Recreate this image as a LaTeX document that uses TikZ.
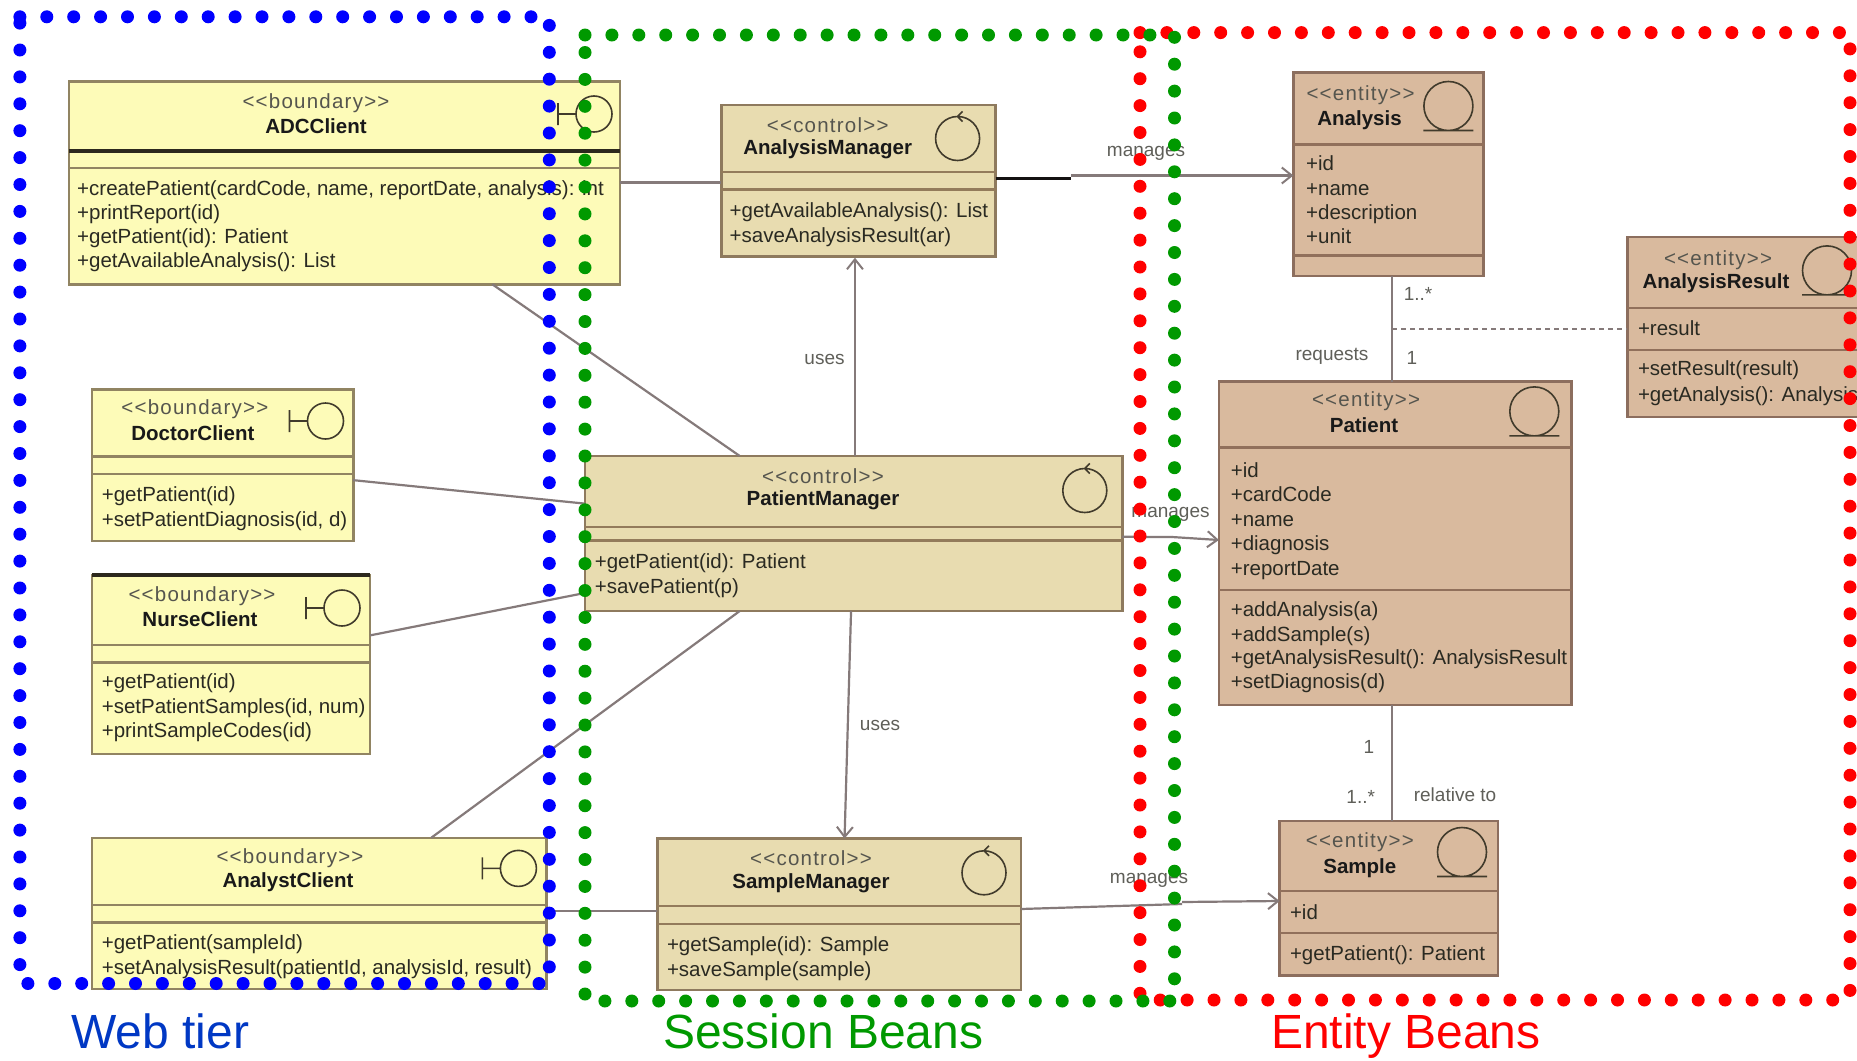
\documentclass[tikz,border=0pt]{standalone}
\usepackage{fontspec}
\setmainfont{Liberation Sans}
\usetikzlibrary{arrows.meta}
\definecolor{yfill}{HTML}{FDFBB8}
\definecolor{yedge}{HTML}{918462}
\definecolor{cfill}{HTML}{E8DCB0}
\definecolor{cedge}{HTML}{8E7A5E}
\definecolor{efill}{HTML}{D9BA9E}
\definecolor{eedge}{HTML}{8C6E5E}
\definecolor{conn}{HTML}{857A7A}
\definecolor{txt}{HTML}{2A2A22}
\definecolor{dotblue}{HTML}{0000FF}
\definecolor{dotgreen}{HTML}{009900}
\definecolor{dotred}{HTML}{FF0000}
\definecolor{webtxt}{HTML}{0038C4}
\tikzset{
  umlbase/.style={rectangle,draw,line width=2.6pt,inner sep=0pt,outer sep=0pt},
  ybox/.style={umlbase,fill=yfill,draw=yedge},
  cbox/.style={umlbase,fill=cfill,draw=cedge},
  ebox/.style={umlbase,fill=efill,draw=eedge},
  ysep/.style={draw=yedge,line width=2.6pt},
  csep/.style={draw=cedge!90!brown,line width=2.6pt},
  esep/.style={draw=eedge!90!brown,line width=2.8pt},
  heavysep/.style={draw=black!70!yedge,line width=3.6pt},
  label/.style={inner sep=0pt,text=txt!75!white,font=\fontsize{19}{19}\selectfont},
  stereo/.style={inner sep=0pt,text=txt!80!white,font=\fontsize{20.5}{22}\selectfont\addfontfeature{LetterSpace=6}},
  cname/.style={inner sep=0pt,text=black!90!white,font=\bfseries\fontsize{20.5}{22}\selectfont},
  member/.style={anchor=west,inner sep=0pt,yshift=-2pt,text=txt,text height=15pt,text depth=4pt,font=\fontsize{20.5}{22}\selectfont},
  iconline/.style={draw=black!55!yedge,line width=1.6pt},
  connector/.style={draw=conn,line width=2.2pt},
  navarrow/.style={connector,-{Straight Barb[length=10pt,width=16pt,line width=2pt]}},
  dotted link/.style={draw=conn,line width=2pt,dash pattern=on 5pt off 4pt},
  tier/.style={inner sep=0pt,anchor=base west,font=\fontsize{48}{50}\selectfont},
  dots/.style={line width=13pt,line cap=round,dash pattern=on 0pt off 26.9pt},
}
\newcommand{\umlbox}[6]{\node[#2,minimum width={#5-#3},minimum height={#6-#4}] (#1) at ({(#3+#5)/2},{(#4+#6)/2}) {};}
\newcommand{\boundaryicon}[2]{\draw[iconline,shift={(#1,#2)}] (-36,-11) -- (-36,11) (-36,0) -- (-18,0) (0,0) circle[radius=18];}
\newcommand{\controlicon}[2]{\draw[iconline,shift={(#1,#2)}] (0,0) circle[radius=22] (5,-27) -- (0,-22) -- (5,-17);}
\newcommand{\entityicon}[2]{\draw[iconline,shift={(#1,#2)}] (0,0) circle[radius=24.5] (-25,24.5) -- (25,24.5);}
\begin{document}
\begin{tikzpicture}[x=1pt,y=-1pt]
\useasboundingbox[fill=white] (0,0) rectangle (1857,1060);

% class boxes
\umlbox{adc}{ybox}{68.8}{81.4}{619.8}{284.3}
\umlbox{doc}{ybox}{92}{389.3}{353.2}{541}
\umlbox{nur}{ybox}{92}{574.8}{370}{754}
\umlbox{ana}{ybox}{92}{837.8}{546.4}{988.8}
\umlbox{am}{cbox}{721.4}{105}{995.5}{256.7}
\umlbox{pm}{cbox}{584.8}{456}{1122.3}{611}
\umlbox{sm}{cbox}{657.3}{838.5}{1020.9}{990}
\umlbox{ay}{ebox}{1293.4}{72.4}{1483.6}{276}
\umlbox{ar}{ebox}{1627.3}{237}{1890}{417}
\umlbox{pa}{ebox}{1218.9}{381.5}{1571.6}{705}
\umlbox{sa}{ebox}{1279.6}{821}{1497.9}{975.5}

% compartments
\draw[heavysep] (adc.west |- 0,150.7) -- (adc.east |- 0,150.7);
\draw[ysep] (adc.west |- 0,167.9) -- (adc.east |- 0,167.9);
\draw[ysep] (doc.west |- 0,456.4) -- (doc.east |- 0,456.4);
\draw[ysep] (doc.west |- 0,474) -- (doc.east |- 0,474);
\draw[heavysep] (nur.north west) -- (nur.north east);
\draw[ysep] (nur.west |- 0,645) -- (nur.east |- 0,645);
\draw[ysep] (nur.west |- 0,662.7) -- (nur.east |- 0,662.7);
\draw[ysep] (ana.west |- 0,905) -- (ana.east |- 0,905);
\draw[ysep] (ana.west |- 0,922.4) -- (ana.east |- 0,922.4);
\draw[csep] (am.west |- 0,172) -- (am.east |- 0,172);
\draw[csep] (am.west |- 0,189.4) -- (am.east |- 0,189.4);
\draw[csep] (pm.west |- 0,527) -- (pm.east |- 0,527);
\draw[csep] (pm.west |- 0,540.7) -- (pm.east |- 0,540.7);
\draw[csep] (sm.west |- 0,906) -- (sm.east |- 0,906);
\draw[csep] (sm.west |- 0,923.8) -- (sm.east |- 0,923.8);
\draw[esep] (ay.west |- 0,144.4) -- (ay.east |- 0,144.4);
\draw[esep] (ay.west |- 0,255.8) -- (ay.east |- 0,255.8);
\draw[esep] (ar.west |- 0,308) -- (ar.east |- 0,308);
\draw[esep] (ar.west |- 0,350) -- (ar.east |- 0,350);
\draw[esep] (pa.west |- 0,447.2) -- (pa.east |- 0,447.2);
\draw[esep] (pa.west |- 0,590) -- (pa.east |- 0,590);
\draw[esep] (sa.west |- 0,891) -- (sa.east |- 0,891);
\draw[esep] (sa.west |- 0,933) -- (sa.east |- 0,933);

% icons
\boundaryicon{594}{114}
\boundaryicon{325.5}{421}
\boundaryicon{342}{608}
\boundaryicon{518.4}{868.4}
\controlicon{957.6}{138.5}
\controlicon{1084.8}{490.5}
\controlicon{984}{872.8}
\entityicon{1448.4}{106}
\entityicon{1827}{270.4}
\entityicon{1534.3}{411.4}
\entityicon{1462}{852}

% class headers
\node[stereo] (adcS) at (316,102.9) {<{}<boundary>{}>};
\node[cname] (adcN) at (316,126.3) {ADCClient};
\node[stereo] (docS) at (194.9,409.6) {<{}<boundary>{}>};
\node[cname] (docN) at (192.9,433) {DoctorClient};
\node[stereo] (nurS) at (202,595.7) {<{}<boundary>{}>};
\node[cname] (nurN) at (200,619.6) {NurseClient};
\node[stereo] (anaS) at (290,857.7) {<{}<boundary>{}>};
\node[cname] (anaN) at (288,882) {AnalystClient};
\node[stereo] (amS) at (827.7,125) {<{}<control>{}>};
\node[cname] (amN) at (827.7,148.8) {AnalysisManager};
\node[stereo] (pmS) at (823,476.4) {<{}<control>{}>};
\node[cname] (pmN) at (823,500) {PatientManager};
\node[stereo] (smS) at (811,858.6) {<{}<control>{}>};
\node[cname] (smN) at (811,883.5) {SampleManager};
\node[stereo] (ayS) at (1360.5,95) {<{}<entity>{}>};
\node[cname] (ayN) at (1359.5,120) {Analysis};
\node[stereo] (arS) at (1718,260) {<{}<entity>{}>};
\node[cname] (arN) at (1716,283) {AnalysisResult};
\node[stereo] (paS) at (1366,401.5) {<{}<entity>{}>};
\node[cname] (paN) at (1364,425) {Patient};
\node[stereo] (saS) at (1359.8,842.5) {<{}<entity>{}>};
\node[cname] (saN) at (1359.8,868) {Sample};

% members
\node[member] (adc1) at (77,187.5) {+createPatient(cardCode, name, reportDate, analysis): int};
\node[member] (adc2) at (77,211.5) {+printReport(id)};
\node[member] (adc3) at (77,235.5) {+getPatient(id): Patient};
\node[member] (adc4) at (77,260) {+getAvailableAnalysis(): List};
\node[member] (doc1) at (101.6,494) {+getPatient(id)};
\node[member] (doc2) at (101.6,519) {+setPatientDiagnosis(id, d)};
\node[member] (nur1) at (101.6,681) {+getPatient(id)};
\node[member] (nur2) at (101.6,705.8) {+setPatientSamples(id, num)};
\node[member] (nur3) at (101.6,730) {+printSampleCodes(id)};
\node[member] (ana1) at (101.6,942) {+getPatient(sampleId)};
\node[member] (ana2) at (101.6,966.9) {+setAnalysisResult(patientId, analysisId, result)};
\node[member] (am1) at (729.5,210) {+getAvailableAnalysis(): List};
\node[member] (am2) at (729.5,235) {+saveAnalysisResult(ar)};
\node[member] (pm1) at (594.6,560.5) {+getPatient(id): Patient};
\node[member] (pm2) at (594.6,585.9) {+savePatient(p)};
\node[member] (sm1) at (666.8,944) {+getSample(id): Sample};
\node[member] (sm2) at (666.8,968.8) {+saveSample(sample)};
\node[member] (ay1) at (1306,163.3) {+id};
\node[member] (ay2) at (1306,188) {+name};
\node[member] (ay3) at (1306,212.4) {+description};
\node[member] (ay4) at (1306,236) {+unit};
\node[member] (ar1) at (1637.8,327.5) {+result};
\node[member] (ar2) at (1637.8,368) {+setResult(result)};
\node[member] (ar3) at (1637.8,393.5) {+getAnalysis(): Analysis};
\node[member] (pa1) at (1230.6,469.5) {+id};
\node[member] (pa2) at (1230.6,494) {+cardCode};
\node[member] (pa3) at (1230.6,518.5) {+name};
\node[member] (pa4) at (1230.6,543) {+diagnosis};
\node[member] (pa5) at (1230.6,568) {+reportDate};
\node[member] (pa6) at (1230.6,609) {+addAnalysis(a)};
\node[member] (pa7) at (1230.6,633.5) {+addSample(s)};
\node[member] (pa8) at (1230.6,656.7) {+getAnalysisResult(): AnalysisResult};
\node[member] (pa9) at (1230.6,681) {+setDiagnosis(d)};
\node[member] (sa1) at (1289.8,912) {+id};
\node[member] (sa2) at (1289.8,953) {+getPatient(): Patient};

% connectors
\draw[connector] (adc.east |- 0,182.5) -- (am.west |- 0,182.5);
\draw[connector] ([xshift=148pt]adc.south) -- ([xshift=-113.8pt]pm.north);
\draw[connector] ([yshift=-15pt]doc.east) -- (pm.west |- 0,503.6);
\draw[connector] ([yshift=29pt]nur.east) -- (pm.west |- 0,593);
\draw[connector] ([xshift=112pt]ana.north) -- ([xshift=-113.8pt]pm.south);
\draw[connector] (ana.east |- 0,911) -- (sm.west |- 0,911);
\draw[navarrow] ([xshift=-3.5pt]am.south |- pm.north) -- ([xshift=-3.5pt,yshift=-1pt]am.south);
\draw[navarrow] ([xshift=-2.5pt]pm.south) -- ([xshift=-9pt]pm.south |- sm.north);
\coordinate (amBend) at (1071,177);
\draw[draw=black!85!conn,line width=3pt] (am.east |- 0,178.6) -- (amBend |- 0,178.6);
\draw[navarrow] (amBend |- 0,175.5) -- (ay.west |- 0,175.5);
\coordinate (pmBend) at (1172,537);
\draw[connector] (pm.east |- 0,536.8) -- (pmBend);
\draw[navarrow] (pmBend) -- (pa.west |- 0,540);
\coordinate (smBend) at (1182,902);
\draw[connector] (sm.east |- 0,909) -- (smBend |- 0,904);
\draw[navarrow] (smBend |- 0,902) -- (sa.west |- 0,901);
\draw[connector] (ay.south -| 1392,0) -- (pa.north -| 1392,0);
\coordinate (assoc) at (1392,329);
\draw[dotted link] (assoc) -- (ar.west |- assoc);
\draw[connector] (pa.south -| 1392,0) -- (sa.north -| 1392,0);

% connector labels
\node[label] (lm1) at (1146,153) {manages};
\node[label] (lm2) at (1170.5,514.6) {manages};
\node[label] (lm3) at (1149,880) {manages};
\node[label] (lu1) at (824.5,359.7) {uses};
\node[label] (lu2) at (880,725) {uses};
\node[label] (lr) at (1332,356) {requests};
\node[label] (lc1) at (1418,293.6) {1..*};
\node[label] (lc2) at (1412,358) {1};
\node[label] (lc3) at (1369,747) {1};
\node[label] (lc4) at (1360.7,797) {1..*};
\node[label] (lrt) at (1455,795) {relative to};

% tier titles
\node[tier,text=webtxt] (tw) at (71,1048) {Web tier};
\node[tier,text=dotgreen] (ts) at (663,1048) {Session Beans};
\node[tier,text=dotred] (te) at (1271,1048) {Entity Beans};

% tier frames
\draw[dots,draw=dotred] (1140,32.6) -- (1850,32.6) -- (1850,1000) -- (1140,1000) -- cycle;
\draw[dots,draw=dotgreen] (585,35) -- (1174.5,35) -- (1174.5,1001) -- (585,1001) -- cycle;
\draw[dots,draw=dotblue] (19.9,16.8) -- (549.3,16.8) -- (549.3,983.5) -- (19.9,983.5) -- cycle;
\end{tikzpicture}
\end{document}
